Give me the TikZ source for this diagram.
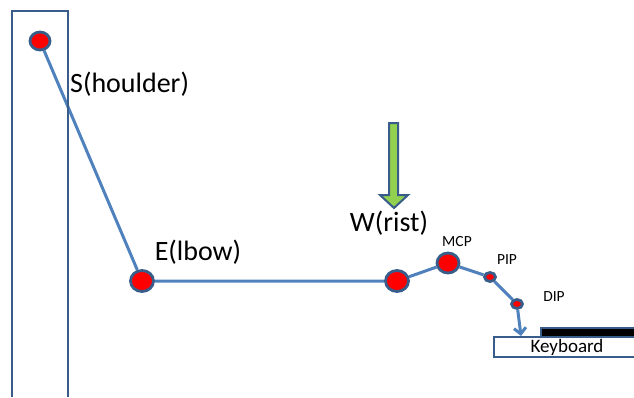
\documentclass[tikz,border=0pt]{standalone}
\usepackage{fontspec}
\setmainfont{Carlito}
\usetikzlibrary{shapes.geometric,arrows.meta,backgrounds}
\definecolor{armblue}{HTML}{4F81BD}
\definecolor{edgeblue}{HTML}{385D8A}
\definecolor{pushgreen}{HTML}{92D050}
\tikzset{
  joint/.style={ellipse,draw=edgeblue,line width=2.8pt,fill=red,inner sep=0pt,minimum width=#1pt,minimum height=#1pt-2pt},
  limb/.style={armblue,line width=3pt},
  biglabel/.style={inner sep=0pt,font=\fontsize{28}{30}\selectfont},
  smalllabel/.style={inner sep=0pt,font=\fontsize{15.5}{17}\selectfont}
}
\begin{document}
\begin{tikzpicture}[x=1pt,y=-1pt]
\useasboundingbox (0,0) rectangle (634,397);
% body
\draw[edgeblue,line width=2.5pt] (12,397) |- (68,11) -- (68,397);

% joints
\node[joint=20] (S) at (40,41) {};
\node[joint=23] (E) at (142,281) {};
\node[joint=23] (W) at (397,281) {};
\node[joint=22] (MCP) at (448,263) {};
\node[joint=11] (PIP) at (490,277) {};
\node[joint=11] (DIP) at (517,304) {};

% arm
\begin{scope}[on background layer]
\draw[limb] (S) -- (E) -- (W) -- (MCP) -- (PIP) -- (DIP);
\end{scope}

% labels
\node[biglabel,anchor=west] (Slabel) at (70,84) {S(houlder)};
\node[biglabel] (Elabel) at (198,252) {E(lbow)};
\node[biglabel] (Wlabel) at (389,223) {W(rist)};
\node[smalllabel] (MCPlabel) at (457,242) {MCP};
\node[smalllabel] (PIPlabel) at (507,260) {PIP};
\node[smalllabel] (DIPlabel) at (554,297) {DIP};

% push
\draw[edgeblue,fill=pushgreen,line width=2pt] (389,123) -- (398,123) -- (398,195) -- (408,195)
  -- (394,208) -- (380,195) -- (389,195) -- cycle;

% keyboard
\fill[black] (541,328) rectangle (634,337);
\draw[edgeblue,line width=2pt] (634,328) -- (541,328) -- (541,337);
\draw[edgeblue,line width=2.5pt] (634,337) -- (494,337) -- (494,357) -- (634,357);
\node[inner sep=0pt,font=\fontsize{19}{20}\selectfont] (kb) at (567,347) {Keyboard};
\coordinate (press) at (521,336);
\draw[limb,-{Straight Barb[length=6pt,width=12pt]}] (DIP) -- (press);
\end{tikzpicture}
\end{document}
